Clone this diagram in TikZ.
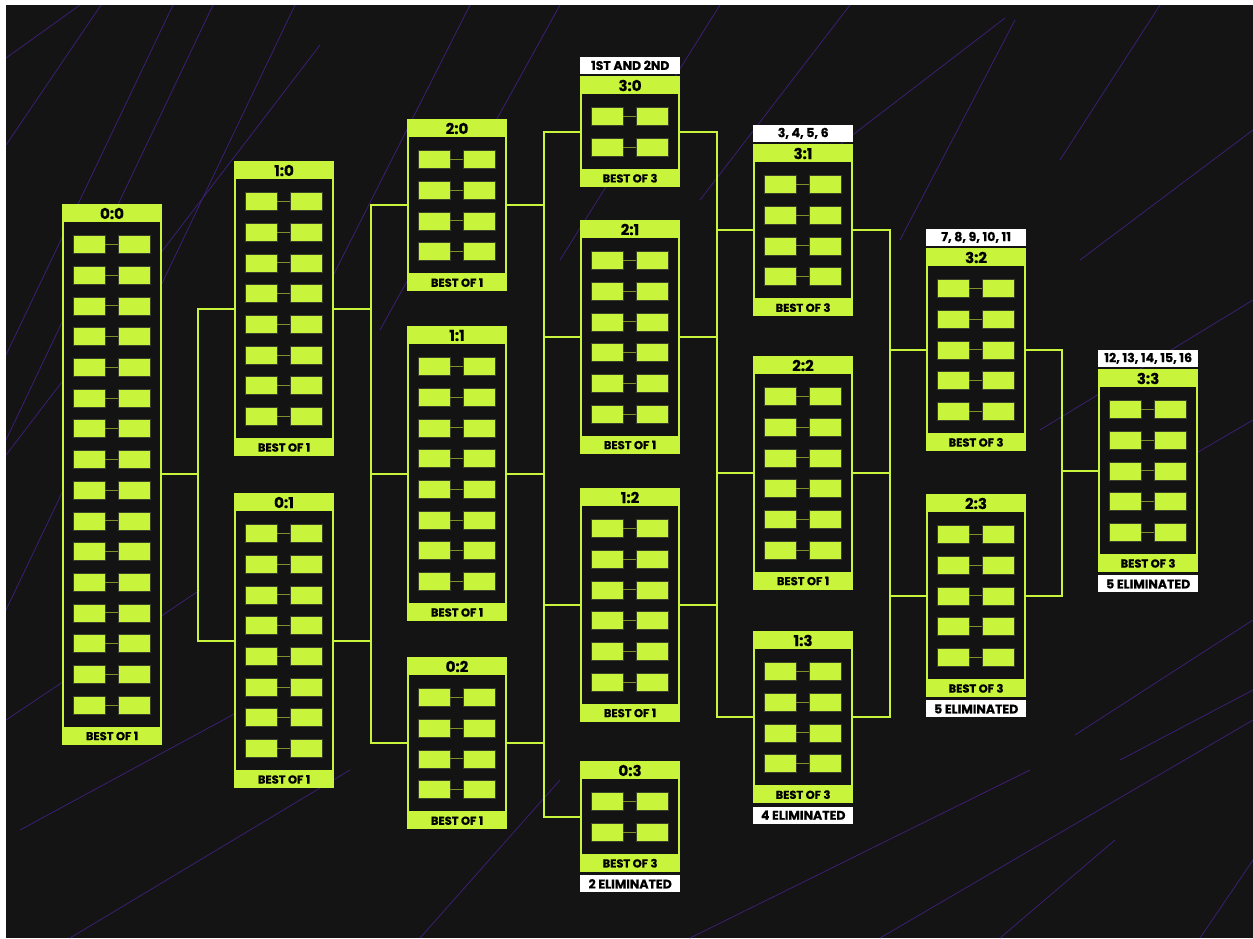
\documentclass[tikz,border=0pt]{standalone}
\usepackage{fontspec}
\newfontfamily\pop{Poppins}[BoldFeatures={FakeBold=0.6}]
\usetikzlibrary{calc}
\definecolor{lime}{HTML}{C8F43C}
\definecolor{bgdark}{HTML}{141414}
\definecolor{innerdark}{HTML}{131313}
\definecolor{purp}{HTML}{40207E}
\definecolor{olive}{HTML}{7D9228}
\definecolor{cellline}{HTML}{3A3F2A}
\tikzset{
  box/.style={fill=lime, draw=none, minimum width=100pt, inner sep=0pt},
  hdr/.style={font=\pop\bfseries\fontsize{15}{15}\selectfont, text=black, inner sep=0pt},
  ftr/.style={font=\pop\bfseries\fontsize{11.5}{11.5}\selectfont, text=black, inner sep=0pt},
  cell/.style={fill=lime, draw=cellline, line width=0.5pt, minimum width=32pt, minimum height=18pt, inner sep=0pt},
  link/.style={draw=olive, line width=1pt},
  lbl/.style={fill=white, minimum width=100pt, minimum height=17pt, inner sep=0pt, font=\pop\bfseries\fontsize{12.5}{12.5}\selectfont, text=black},
  conn/.style={draw=lime, line width=2pt},
  bgline/.style={draw=purp, line width=0.7pt}
}
\newcommand\bbox[6]{%
  \pgfmathsetmacro\bbH{80+(#4-1)*30.7}%
  \node[box, minimum height=\bbH pt, anchor=north west] (#1) at (#2,#3) {};
  \fill[innerdark] (#2+2,#3+18) rectangle (#2+98,#3+\bbH-18);
  \node[hdr] (#1-t) at (#2+50,#3+9.5) {#5};
  \node[ftr] (#1-f) at (#2+50,#3+\bbH-8.5) {#6};
  \foreach \i in {1,...,#4}{%
    \pgfmathsetmacro\yy{#3+18+13.5+9+(\i-1)*30.7}%
    \node[cell] (#1-a\i) at (#2+27,\yy) {};
    \node[cell] (#1-b\i) at (#2+72,\yy) {};
    \draw[link] (#1-a\i) -- (#1-b\i);
  }%
}
\begin{document}
\begin{tikzpicture}[x=1pt,y=-1pt]
\useasboundingbox (0,0) rectangle (1253,938);
\fill[white] (0,0) rectangle (1253,938);
\fill[bgdark] (6,5) rectangle (1253,938);
\begin{scope}
\clip (6,5) rectangle (1253,938);
\foreach \a/\b in {
  {(6,58)}/{(80,5)}, {(6,145)}/{(101,5)}, {(173,5)}/{(6,355)}, {(213,5)}/{(6,440)},
  {(295,5)}/{(6,610)}, {(320,45)}/{(6,455)}, {(470,5)}/{(260,420)}, {(560,5)}/{(380,330)},
  {(720,5)}/{(560,260)}, {(1005,18)}/{(820,160)}, {(1015,20)}/{(900,240)},
  {(1253,130)}/{(1080,260)}, {(1253,300)}/{(1040,430)}, {(1253,420)}/{(1150,480)},
  {(1253,620)}/{(1075,735)}, {(1253,690)}/{(1120,760)}, {(1115,840)}/{(1000,938)},
  {(690,938)}/{(1030,770)}, {(880,938)}/{(1253,720)}, {(20,830)}/{(260,700)},
  {(70,938)}/{(350,770)}, {(6,720)}/{(200,590)}, {(1253,860)}/{(1200,938)},
  {(420,938)}/{(560,780)}, {(1160,5)}/{(1060,160)}, {(850,5)}/{(700,200)}}
  { \draw[bgline] \a -- \b; }
\end{scope}

% connector junction x positions
\coordinate (j1) at (198,0);
\coordinate (j2) at (370.5,0);
\coordinate (j3) at (543.5,0);
\coordinate (j4) at (716.5,0);
\coordinate (j5) at (889.5,0);
\coordinate (j6) at (1062,0);

% boxes
\bbox{b00}{62}{204}{16}{0:0}{BEST OF 1}
\bbox{b10}{234}{161}{8}{1:0}{BEST OF 1}
\bbox{b01}{234}{493}{8}{0:1}{BEST OF 1}
\bbox{b20}{407}{119}{4}{2:0}{BEST OF 1}
\bbox{b11}{407}{326}{8}{1:1}{BEST OF 1}
\bbox{b02}{407}{657}{4}{0:2}{BEST OF 1}
\bbox{b30}{580}{76}{2}{3:0}{BEST OF 3}
\bbox{b21}{580}{220}{6}{2:1}{BEST OF 1}
\bbox{b12}{580}{488}{6}{1:2}{BEST OF 1}
\bbox{b03}{580}{761}{2}{0:3}{BEST OF 3}
\bbox{b31}{753}{144}{4}{3:1}{BEST OF 3}
\bbox{b22}{753}{356}{6}{2:2}{BEST OF 1}
\bbox{b13}{753}{631}{4}{1:3}{BEST OF 3}
\bbox{b32}{926}{248}{5}{3:2}{BEST OF 3}
\bbox{b23}{926}{494}{5}{2:3}{BEST OF 3}
\bbox{b33}{1098}{369}{5}{3:3}{BEST OF 3}

% labels
\node[lbl, anchor=south] (l30) at ([yshift=2pt]b30.north) {1ST AND 2ND};
\node[lbl, anchor=south] (l31) at ([yshift=2pt]b31.north) {3, 4, 5, 6};
\node[lbl, anchor=south] (l32) at ([yshift=2pt]b32.north) {7, 8, 9, 10, 11};
\node[lbl, anchor=south] (l33) at ([yshift=2pt]b33.north) {12, 13, 14, 15, 16};
\node[lbl, anchor=north] (e03) at ([yshift=-3pt]b03.south) {2 ELIMINATED};
\node[lbl, anchor=north] (e13) at ([yshift=-3pt]b13.south) {4 ELIMINATED};
\node[lbl, anchor=north] (e23) at ([yshift=-3pt]b23.south) {5 ELIMINATED};
\node[lbl, anchor=north] (e33) at ([yshift=-3pt]b33.south) {5 ELIMINATED};

% connectors
\draw[conn] (b00.east) -- (j1 |- b00.east);
\draw[conn] (b10.west) -| (j1 |- b01.west) -- (b01.west);

\draw[conn] (b20.west) -| (j2 |- b02.west) -- (b02.west);
\draw[conn] (b11.west) -- (j2 |- b11.west);
\draw[conn] (b10.east) -- (j2 |- b10.east);
\draw[conn] (b01.east) -- (j2 |- b01.east);

\draw[conn] (b30.west) -| (j3 |- b03.west) -- (b03.west);
\draw[conn] (b21.west) -- (j3 |- b21.west);
\draw[conn] (b12.west) -- (j3 |- b12.west);
\draw[conn] (b20.east) -- (j3 |- b20.east);
\draw[conn] (b11.east) -- (j3 |- b11.east);
\draw[conn] (b02.east) -- (j3 |- b02.east);

\draw[conn] (b30.east) -| (j4 |- b13.west) -- (b13.west);
\draw[conn] (b31.west) -- (j4 |- b31.west);
\draw[conn] (b22.west) -- (j4 |- b22.west);
\draw[conn] (b21.east) -- (j4 |- b21.east);
\draw[conn] (b12.east) -- (j4 |- b12.east);

\draw[conn] (b31.east) -| (j5 |- b13.east) -- (b13.east);
\draw[conn] (b32.west) -- (j5 |- b32.west);
\draw[conn] (b23.west) -- (j5 |- b23.west);
\draw[conn] (b22.east) -- (j5 |- b22.east);

\draw[conn] (b32.east) -| (j6 |- b23.east) -- (b23.east);
\draw[conn] (b33.west) -- (j6 |- b33.west);
\end{tikzpicture}
\end{document}
